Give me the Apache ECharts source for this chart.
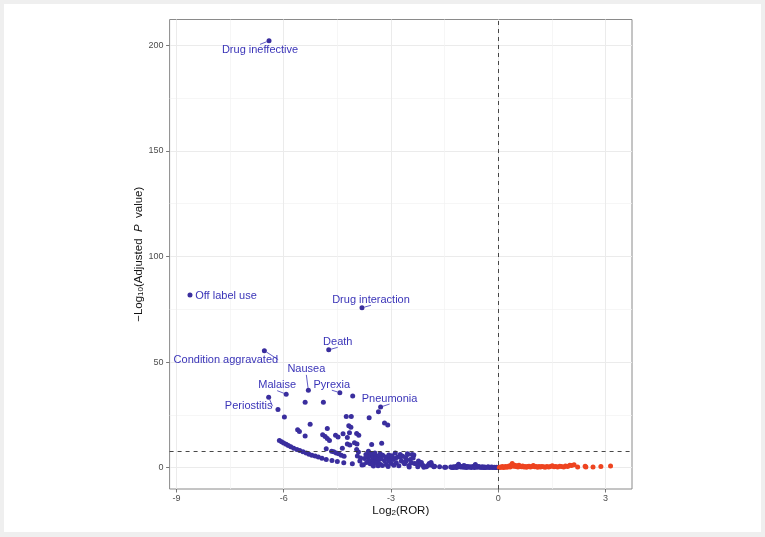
<!DOCTYPE html>
<html><head><meta charset="utf-8">
<script src="https://cdn.jsdelivr.net/npm/echarts@6/dist/echarts.min.js"></script>
<style>
html,body{margin:0;padding:0;background:#efefef;}
#wrap{position:relative;width:765px;height:537px;background:#efefef;overflow:hidden}
#card{position:absolute;left:4px;top:4px;right:4px;bottom:5px;background:#fff}
#chart{position:absolute;left:0;top:0;width:765px;height:537px}
</style></head><body>
<div id="wrap"><div id="card"></div><div id="chart"></div></div>
<script>
// ---- tick labels / thresholds ----
const xTicks = [-9, -6, -3, 0, 3];
const xMinor = [-7.5, -4.5, -1.5, 1.5];
const yTicks = [0, 50, 100, 150, 200];
const yMinor = [25, 75, 125, 175];
const thresholdX = 0;
const thresholdY = 8;

// ---- labelled adverse events ----
const labelNames = ['Drug ineffective', 'Off label use', 'Drug interaction', 'Death', 'Condition aggravated',
  'Nausea', 'Malaise', 'Pyrexia', 'Pneumonia', 'Periostitis'];
const labelX = [-6.41, -8.62, -3.81, -4.74, -6.54, -5.31, -5.93, -4.43, -3.29, -6.42];
const labelY = [202.1, 81.7, 75.7, 55.8, 55.4, 36.6, 34.8, 35.5, 28.7, 33.4];

// ---- other events, log2(ROR) < 0 ----
const blueX = [
  -4.07, -5.40, -4.89, -6.16, -5.98, -4.25, -4.11, -3.61, -3.35, -5.26, -3.18, -3.09, -4.18, -4.12, -4.78, -5.61, -5.56, -4.16, -4.34, -3.96,
  -3.90, -5.40, -4.91, -4.84, -4.78, -4.72, -4.55, -4.48, -4.22, -3.26, -3.54, -4.02, -3.95, -4.22, -4.15, -4.36, -4.81, -3.96, -3.91, -3.63,
  -6.12, -6.06, -6.00, -5.93, -5.87, -5.80, -5.72, -5.63, -5.55, -5.46, -5.37, -5.29, -5.21, -5.12, -5.03, -4.93, -4.81, -4.65, -4.50, -4.32,
  -4.08, -3.81, -3.49, -3.08, -2.49, -2.08,
  -4.66, -4.60, -4.53, -4.46, -4.39, -4.31,
  -3.94, -3.87, -3.77, -3.85, -3.74, -3.70, -3.66, -3.62, -3.68, -3.58, -3.60, -3.57,
  -3.55, -3.49, -3.41, -3.34, -3.51, -3.43, -3.37, -3.56, -3.47, -3.40, -3.32, -3.23, -3.15, -3.09, -3.02, -2.94, -2.87, -2.81, -2.74, -2.67,
  -2.59, -2.53, -2.41, -2.46, -2.57, -2.71, -2.85, -2.99, -3.13, -3.24, -2.43, -2.34, -2.20, -2.10, -2.25, -1.93, -1.87, -2.01, -1.78, -1.64,
  -2.88, -2.54, -2.36, -3.06, -2.74, -2.23, -2.29, -1.88, -1.86, -1.80, -1.50,
  -3.45, -3.30, -3.18, -3.05, -2.92, -2.78, -2.62, -2.50, -3.36, -3.52, -3.28, -2.97, -2.64, -2.38, -2.15, -1.97,
  -1.47, -1.33, -1.29, -1.25, -1.21, -1.18, -1.14, -1.11, -1.08, -1.05, -1.02, -0.98, -0.95, -0.92, -0.88, -0.85, -0.82, -0.78, -0.75, -0.71,
  -0.68, -0.64, -0.61, -0.58, -0.55, -0.52, -0.48, -0.45, -0.41, -0.38, -0.35, -0.31, -0.28, -0.25, -0.21, -0.18, -0.15, -0.11, -0.08, -0.05,
  -0.02, -1.16, -0.90, -0.66, -0.40, -1.26, -0.96
];
const blueY = [
  33.9, 31.0, 31.0, 27.6, 24.0, 24.2, 24.2, 23.6, 26.5, 20.6, 21.2, 20.2, 19.9, 19.1, 18.6, 17.9, 17.1, 16.5, 16.1, 16.2,
  15.3, 15.0, 15.6, 14.8, 13.8, 12.9, 15.4, 14.5, 14.3, 11.6, 11.0, 11.8, 11.2, 11.2, 10.7, 9.2, 9.0, 8.6, 7.4, 7.8,
  12.9, 12.3, 11.7, 11.1, 10.5, 9.9, 9.2, 8.6, 8.1, 7.5, 6.9, 6.4, 5.9, 5.5, 5.0, 4.5, 3.9, 3.4, 2.9, 2.3,
  1.8, 1.3, 0.8, 0.5, 0.3, 0.2,
  7.8, 7.5, 7.0, 6.6, 5.9, 5.4,
  5.5, 3.1, 1.4, 4.6, 4.4, 6.2, 5.0, 3.5, 2.4, 1.9, 6.8, 5.6,
  6.6, 6.2, 5.7, 5.45, 4.7, 4.2, 3.6, 3.1, 2.6, 2.3, 2.0, 5.9, 5.1, 4.7, 4.2, 3.9, 4.5, 5.1, 6.2, 5.45,
  4.7, 6.2, 6.2, 3.9, 3.1, 3.1, 2.3, 2.0, 1.5, 1.0, 2.3, 2.0, 1.5, 1.0, 0.4, 2.0, 1.5, 0.4, 0.7, 0.4,
  7.0, 6.6, 6.0, 6.0, 5.0, 3.1, 1.8, 2.4, 1.1, 0.4, 0.2,
  7.0, 6.6, 3.3, 3.0, 1.2, 0.9, 1.8, 1.0, 0.9, 1.6, 4.2, 5.6, 2.4, 4.6, 2.5, 1.0,
  0.2, 0.3, 0.1, 0.4, 0.2, 0.5, 0.9, 1.6, 0.8, 0.3, 0.6, 0.2, 0.4, 0.7, 0.3, 0.5, 0.2, 0.4, 0.1, 0.6,
  0.3, 1.5, 0.4, 0.2, 0.5, 0.3, 0.1, 0.4, 0.2, 0.3, 0.1, 0.2, 0.4, 0.1, 0.2, 0.3, 0.1, 0.2, 0.1, 0.2,
  0.1, 0.1, 0.1, 0.1, 0.05, 0.05, 1.0
];

// ---- events, log2(ROR) > 0 ----
const redX = [
  0.03, 0.06, 0.09, 0.12, 0.15, 0.18, 0.21, 0.24, 0.27, 0.30, 0.33, 0.36, 0.39, 0.42, 0.46, 0.49, 0.52, 0.55, 0.58, 0.61,
  0.65, 0.68, 0.72, 0.75, 0.79, 0.82, 0.86, 0.90, 0.94, 0.98, 1.02, 1.06, 1.10, 1.14, 1.18, 1.22, 1.27, 1.31, 1.36, 1.41,
  1.46, 1.51, 1.56, 1.61, 1.66, 1.72, 1.77, 1.83, 1.88, 1.94, 2.00, 2.05, 2.12, 2.22, 2.43, 2.45, 2.65, 2.87, 3.14
];
const redY = [
  0.1, 0.3, 0.2, 0.5, 0.1, 0.3, 0.6, 0.2, 0.4, 0.8, 0.3, 1.1, 2.0, 0.7, 1.2, 0.5, 0.9, 0.3, 1.2, 0.6,
  0.4, 0.8, 0.3, 0.6, 0.2, 0.5, 0.7, 0.3, 0.5, 1.0, 0.4, 0.6, 0.2, 0.5, 0.3, 0.6, 0.4, 0.2, 0.5, 0.3,
  0.6, 0.9, 0.4, 0.6, 0.3, 0.7, 0.5, 0.3, 0.8, 0.5, 1.1, 1.0, 1.35, 0.35, 0.7, 0.35, 0.35, 0.5, 0.8
];

// ---- styling ----
const BLUE = '#3A2E9E';
const LABEL_BLUE = '#3A34B8';
const RED = '#EE4420';
const FONT = 'Liberation Sans, Arial, Helvetica, sans-serif';
// label offsets (px) from each labelled point, styling only
const labelOffsets = [[-9, 9], [36, 1], [9, -8], [9, -8], [-38.5, 9], [-2, -21], [-9, -9], [-8, -8], [9, -8.5], [-20, 9]];

const zip = (xs, ys) => xs.map((x, i) => [x, ys[i]]);

const chart = echarts.init(document.getElementById('chart'), null, {renderer: 'canvas'});

const baseAxisLabel = {fontSize: 9, color: '#4d4d4d', fontFamily: FONT};
const option = {
  backgroundColor: 'transparent',
  animation: false,
  grid: {left: 169.6, right: 133, top: 19.5, bottom: 48, show: true, borderColor: '#8a8a8a', borderWidth: 1, backgroundColor: 'transparent', outerBoundsMode: 'none'},
  xAxis: [{
    type: 'value', min: -9.19, max: 3.74,
    axisLine: {show: false, onZero: false},
    axisTick: {show: true, customValues: xTicks, length: 3.5, lineStyle: {color: '#555', width: 0.8}},
    axisLabel: Object.assign({customValues: xTicks, margin: 5, formatter: v => String(v)}, baseAxisLabel),
    splitLine: {show: true, lineStyle: {color: '#ebebeb', width: 1}},
    name: 'Log{sub|2}(ROR)', nameLocation: 'middle', nameGap: 16, nameMoveOverlap: false,
    nameTextStyle: {fontSize: 11.5, color: '#111', fontFamily: FONT, rich: {sub: {fontSize: 8, fontFamily: FONT, color: '#111', verticalAlign: 'bottom', padding: [4, 0, 0, 0]}}}
  }, {
    type: 'value', min: -9.19, max: 3.74, position: 'bottom',
    axisLine: {show: false, onZero: false}, axisLabel: {show: false},
    axisTick: {show: false, customValues: xMinor},
    splitLine: {show: true, lineStyle: {color: '#f2f2f2', width: 0.7}}
  }],
  yAxis: [{
    type: 'value', min: -10.1, max: 212.2,
    axisLine: {show: false, onZero: false},
    axisTick: {show: true, customValues: yTicks, length: 3.5, lineStyle: {color: '#555', width: 0.8}},
    axisLabel: Object.assign({customValues: yTicks, margin: 6}, baseAxisLabel),
    splitLine: {show: true, lineStyle: {color: '#ebebeb', width: 1}},
    name: '\u2212Log{sub|10}(Adjusted  {it|P}  value)', nameLocation: 'middle', nameGap: 25, nameRotate: 90, nameMoveOverlap: false,
    nameTextStyle: {fontSize: 11.5, color: '#111', fontFamily: FONT, rich: {
      sub: {fontSize: 8, fontFamily: FONT, color: '#111', verticalAlign: 'bottom', padding: [4, 0, 0, 0]},
      it: {fontSize: 11.5, fontFamily: FONT, color: '#111', fontStyle: 'italic'}
    }}
  }, {
    type: 'value', min: -10.1, max: 212.2, position: 'left',
    axisLine: {show: false, onZero: false}, axisLabel: {show: false},
    axisTick: {show: false, customValues: yMinor},
    splitLine: {show: true, lineStyle: {color: '#f2f2f2', width: 0.7}}
  }],
  series: [{
    type: 'scatter', name: 'neg', xAxisIndex: 0, yAxisIndex: 0,
    data: zip(blueX, blueY), symbolSize: 5,
    itemStyle: {color: BLUE, opacity: 1},
    markLine: {
      silent: true, symbol: ['none', 'none'], label: {show: false},
      lineStyle: {type: [4, 4], color: '#333', width: 0.9},
      data: [{xAxis: thresholdX}, {yAxis: thresholdY}]
    }
  }, {
    type: 'scatter', name: 'pos', xAxisIndex: 0, yAxisIndex: 0,
    data: zip(redX, redY), symbolSize: 5,
    itemStyle: {color: RED, opacity: 1}
  }, {
    type: 'scatter', name: 'labelled', xAxisIndex: 0, yAxisIndex: 0,
    data: labelNames.map((n, i) => ({name: n, value: [labelX[i], labelY[i]], labelLine: {show: i !== 1}})),
    symbolSize: 5,
    itemStyle: {color: BLUE, opacity: 1},
    label: {show: true, position: 'inside', formatter: '{b}', color: LABEL_BLUE, fontSize: 11, fontFamily: FONT,
      textBorderWidth: 0, textBorderColor: 'transparent', textShadowBlur: 0, opacity: 1},
    labelLine: {show: true, lineStyle: {color: LABEL_BLUE, width: 0.8, opacity: 1}},
    labelLayout: p => ({dx: labelOffsets[p.dataIndex][0], dy: labelOffsets[p.dataIndex][1]})
  }]
};
chart.setOption(option);
</script>
</body></html>
